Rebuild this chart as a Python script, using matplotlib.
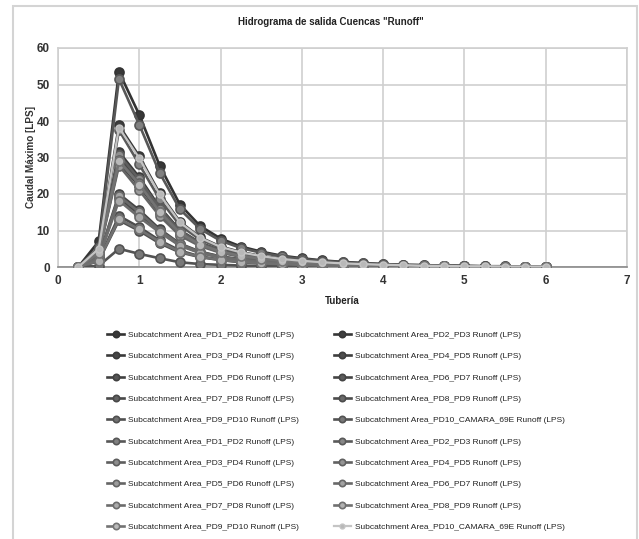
import matplotlib.pyplot as plt
from matplotlib.patches import Rectangle

plt.rcParams['font.family'] = ['Liberation Sans', 'DejaVu Sans']

# eje x: tuberia
tuberia = [0.25, 0.5, 0.75, 1.0, 1.25, 1.5, 1.75, 2.0, 2.25, 2.5, 2.75, 3.0,
           3.25, 3.5, 3.75, 4.0, 4.25, 4.5, 4.75, 5.0, 5.25, 5.5, 5.75, 6.0]

nombres = ['PD1_PD2', 'PD2_PD3', 'PD3_PD4', 'PD4_PD5', 'PD5_PD6',
           'PD6_PD7', 'PD7_PD8', 'PD8_PD9', 'PD9_PD10', 'PD10_CAMARA_69E']

# caudales (LPS) por serie, en el orden de la leyenda
q01 = [0, 7.0, 53.5, 41.7, 27.8, 17.1, 11.2, 7.8, 5.6, 4.2, 3.1, 2.4, 1.8, 1.4, 1.1, 0.8, 0.6, 0.5, 0.4, 0.3, 0.2, 0.2, 0.1, 0.1]
q02 = [0, 5.0, 38.8, 30.3, 20.2, 12.4, 8.1, 5.6, 4.1, 3.0, 2.3, 1.7, 1.3, 1.0, 0.8, 0.6, 0.5, 0.3, 0.3, 0.2, 0.2, 0.1, 0.1, 0.1]
q03 = [0, 4.1, 31.5, 24.6, 16.4, 10.1, 6.6, 4.6, 3.3, 2.5, 1.8, 1.4, 1.1, 0.8, 0.6, 0.5, 0.4, 0.3, 0.2, 0.2, 0.1, 0.1, 0.1, 0.1]
q04 = [0, 3.9, 30.0, 23.4, 15.6, 9.6, 6.3, 4.4, 3.2, 2.3, 1.7, 1.3, 1.0, 0.8, 0.6, 0.5, 0.4, 0.3, 0.2, 0.2, 0.1, 0.1, 0.1, 0.1]
q05 = [0, 3.7, 28.5, 22.2, 14.8, 9.1, 6.0, 4.1, 3.0, 2.2, 1.7, 1.3, 1.0, 0.7, 0.6, 0.4, 0.3, 0.3, 0.2, 0.1, 0.1, 0.1, 0.1, 0.1]
q06 = [0, 2.6, 20.0, 15.6, 10.4, 6.4, 4.2, 2.9, 2.1, 1.6, 1.2, 0.9, 0.7, 0.5, 0.4, 0.3, 0.2, 0.2, 0.1, 0.1, 0.1, 0.1, 0.0, 0.0]
q07 = [0, 2.4, 18.8, 14.4, 9.8, 6.0, 3.9, 2.7, 2.0, 1.5, 1.1, 0.8, 0.6, 0.5, 0.4, 0.3, 0.2, 0.2, 0.1, 0.1, 0.1, 0.1, 0.0, 0.0]
q08 = [0, 1.8, 14.0, 10.9, 7.3, 4.5, 2.9, 2.0, 1.5, 1.1, 0.8, 0.6, 0.5, 0.4, 0.3, 0.2, 0.2, 0.1, 0.1, 0.1, 0.1, 0.0, 0.0, 0.0]
q09 = [0, 1.6, 12.8, 9.9, 6.5, 4.0, 2.7, 1.9, 1.3, 1.0, 0.7, 0.6, 0.4, 0.3, 0.3, 0.2, 0.2, 0.1, 0.1, 0.1, 0.1, 0.0, 0.0, 0.0]
q10 = [0, 0.3, 5.0, 3.6, 2.4, 1.3, 0.8, 0.6, 0.4, 0.3, 0.2, 0.2, 0.1, 0.1, 0.1, 0.1, 0.0, 0.0, 0.0, 0.0, 0.0, 0.0, 0.0, 0.0]
q11 = [0, 5.5, 51.5, 39.0, 25.8, 15.8, 10.4, 7.2, 5.2, 3.9, 2.9, 2.2, 1.7, 1.3, 1.0, 0.8, 0.6, 0.5, 0.3, 0.3, 0.2, 0.2, 0.1, 0.1]
q12 = [0, 4.6, 37.5, 28.1, 18.6, 11.4, 7.5, 5.2, 3.8, 2.8, 2.1, 1.6, 1.2, 0.9, 0.7, 0.6, 0.4, 0.3, 0.3, 0.2, 0.1, 0.1, 0.1, 0.1]
q13 = [0, 4.0, 30.8, 24.0, 16.0, 9.9, 6.5, 4.5, 3.2, 2.4, 1.8, 1.4, 1.0, 0.8, 0.6, 0.5, 0.4, 0.3, 0.2, 0.2, 0.1, 0.1, 0.1, 0.1]
q14 = [0, 3.8, 29.3, 22.9, 15.2, 9.4, 6.2, 4.2, 3.1, 2.3, 1.7, 1.3, 1.0, 0.8, 0.6, 0.4, 0.4, 0.3, 0.2, 0.1, 0.1, 0.1, 0.1, 0.1]
q15 = [0, 3.6, 27.8, 21.0, 14.0, 8.6, 5.7, 3.9, 2.8, 2.1, 1.6, 1.2, 0.9, 0.7, 0.5, 0.4, 0.3, 0.2, 0.2, 0.1, 0.1, 0.1, 0.1, 0.1]
q16 = [0, 2.5, 19.5, 15.0, 10.0, 6.2, 4.1, 2.8, 2.0, 1.5, 1.1, 0.9, 0.7, 0.5, 0.4, 0.3, 0.2, 0.2, 0.1, 0.1, 0.1, 0.1, 0.0, 0.0]
q17 = [0, 2.3, 18.2, 13.6, 9.5, 5.8, 3.8, 2.6, 1.9, 1.4, 1.1, 0.8, 0.6, 0.5, 0.4, 0.3, 0.2, 0.2, 0.1, 0.1, 0.1, 0.1, 0.0, 0.0]
q18 = [0, 1.7, 13.2, 10.3, 6.9, 4.2, 2.8, 1.9, 1.4, 1.0, 0.8, 0.6, 0.4, 0.3, 0.3, 0.2, 0.2, 0.1, 0.1, 0.1, 0.1, 0.0, 0.0, 0.0]
q19 = [0, 3.8, 29.0, 22.6, 15.1, 9.3, 6.1, 4.2, 3.0, 2.3, 1.7, 1.3, 1.0, 0.8, 0.6, 0.4, 0.3, 0.3, 0.2, 0.1, 0.1, 0.1, 0.1, 0.1]
q20 = [0, 5.0, 38.2, 29.8, 19.9, 12.2, 8.0, 5.5, 4.0, 3.0, 2.2, 1.7, 1.3, 1.0, 0.8, 0.6, 0.5, 0.3, 0.3, 0.2, 0.2, 0.1, 0.1, 0.1]

series = [q01, q02, q03, q04, q05, q06, q07, q08, q09, q10,
          q11, q12, q13, q14, q15, q16, q17, q18, q19, q20]
etiquetas = ['Subcatchment Area_' + n + ' Runoff (LPS)' for n in nombres * 2]

fig = plt.figure(figsize=(6.39, 5.39), dpi=100)
fig.patches.append(Rectangle((13 / 639, -0.1), 624 / 639, 1.1 - 6 / 539,
                             transform=fig.transFigure, fill=False,
                             edgecolor='#d4d4d4', linewidth=1.5))
ax = fig.add_axes([58 / 639, 1 - 267 / 539, 569 / 639, 219 / 539])

lineas = []
for i, q in enumerate(series):
    g = 0.22 + 0.028 * i          # tono de gris
    ge = 0.20 + 0.014 * i
    if i == 19:
        ln, = ax.plot(tuberia, q, color='#c4c4c4', lw=1.6, marker='o', ms=5,
                      mfc='#b8b8b8', mec='#c4c4c4', label=etiquetas[i], zorder=3)
    else:
        ln, = ax.plot(tuberia, q, color=(ge, ge, ge), lw=1.9, marker='o', ms=6.5,
                      mfc=(g, g, g), mec=(ge, ge, ge), mew=1.2,
                      label=etiquetas[i], zorder=3)
    lineas.append(ln)

ax.set_xlim(0, 7)
ax.set_ylim(0, 60)
ax.set_xticks(range(0, 8))
ax.set_yticks(range(0, 61, 10))
ax.grid(True, color='#cfcfcf', linewidth=1.2)
ax.set_axisbelow(True)
for s in ['top', 'right', 'left']:
    ax.spines[s].set_color('#cfcfcf')
    ax.spines[s].set_linewidth(1.2)
ax.spines['bottom'].set_color('#8a8a8a')
ax.spines['bottom'].set_linewidth(1.2)
ax.tick_params(length=0, labelsize=8.5, labelcolor='#333333', pad=6)
for t in ax.get_xticklabels() + ax.get_yticklabels():
    t.set_fontweight('bold')

fig.text(331 / 639, 1 - 22 / 539, 'Hidrograma de salida Cuencas "Runoff"',
         ha='center', va='center', fontsize=7, fontweight='bold', color='#222222')
fig.text(31 / 639, 1 - 157 / 539, 'Caudal Máximo [LPS]', rotation=90,
         ha='center', va='center', fontsize=7.2, fontweight='bold', color='#333333')
fig.text(342 / 639, 1 - 301 / 539, 'Tubería', ha='center', va='center',
         fontsize=7, fontweight='bold', color='#222222')

# leyenda en dos columnas, orden por filas
orden = list(range(0, 20, 2)) + list(range(1, 20, 2))
leg = fig.legend([lineas[k] for k in orden], [etiquetas[k] for k in orden],
                 ncol=2, loc='upper left', bbox_to_anchor=(103 / 639, 1 - 327 / 539),
                 frameon=False, fontsize=6.0, handlelength=2.0, handletextpad=0.5,
                 columnspacing=4.2, labelspacing=1.62, borderpad=0, markerscale=0.7)
for t in leg.get_texts():
    t.set_color('#222222')

plt.savefig('out.png', dpi=100)
